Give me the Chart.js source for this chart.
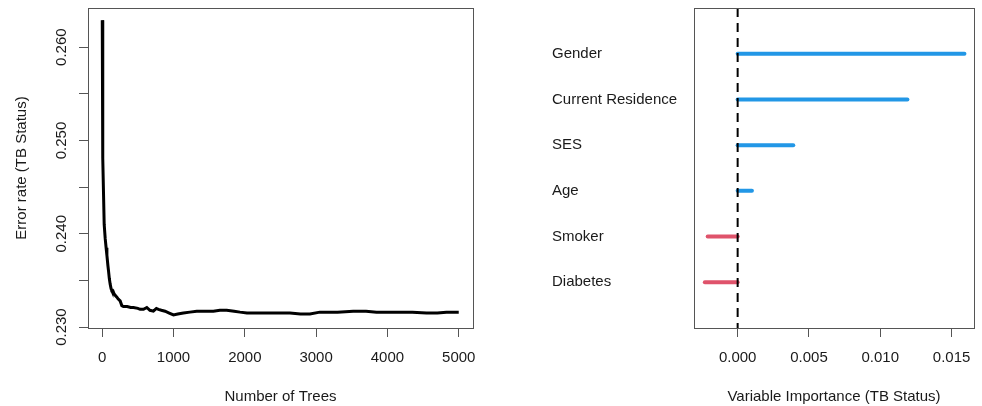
<!DOCTYPE html>
<html>
<head>
<meta charset="utf-8">
<script src="https://cdn.jsdelivr.net/npm/chart.js@4"></script>
<style>
  html, body { margin: 0; padding: 0; background: #fff; }
  #wrap { position: relative; width: 982px; height: 406px; }
  .panel { position: absolute; top: 0; height: 406px; }
  #left { left: 0; width: 490px; }
  #right { left: 490px; width: 492px; }
</style>
</head>
<body>
<div id="wrap">
  <div class="panel" id="left"><canvas id="errChart"></canvas></div>
  <div class="panel" id="right"><canvas id="impChart"></canvas></div>
</div>
<script>
// Left panel: OOB error rate vs number of trees
const treeCounts = [1, 8, 28, 42, 55, 66, 80, 89, 100, 112, 125, 136, 150, 165, 182, 206, 225, 252, 275, 298,
  350, 400, 439, 500, 532, 579, 626, 670, 718, 760, 789, 830, 882, 940, 1000, 1060, 1139, 1230, 1326, 1450,
  1559, 1650, 1746, 1850, 1933, 2030, 2119, 2250, 2399, 2520, 2633, 2780, 2913, 3053, 3147, 3300, 3520, 3700,
  3847, 4000, 4174, 4350, 4548, 4700, 4828, 5000];
const errorRates = [0.2629, 0.2481, 0.2410, 0.2395, 0.2385, 0.2377, 0.2366, 0.2360, 0.2352, 0.2346, 0.2341, 0.2339,
  0.2339, 0.2336, 0.2334, 0.2332, 0.2330, 0.2328, 0.2323, 0.2322, 0.2322, 0.2321, 0.2321, 0.2320, 0.2319, 0.2319,
  0.2321, 0.2318, 0.2317, 0.2320, 0.2319, 0.2318, 0.2317, 0.2315, 0.2313, 0.2314, 0.2315, 0.2316, 0.2317, 0.2317,
  0.2317, 0.2318, 0.2318, 0.2317, 0.2316, 0.2315, 0.2315, 0.2315, 0.2315, 0.2315, 0.2315, 0.2314, 0.2314, 0.2316,
  0.2316, 0.2316, 0.2317, 0.2317, 0.2316, 0.2316, 0.2316, 0.2316, 0.2315, 0.2315, 0.2316, 0.2316];
const treeTicks = [0, 1000, 2000, 3000, 4000, 5000];
const errorTicks = [0.230, 0.235, 0.240, 0.245, 0.250, 0.255, 0.260];
const errorTickLabels = ['0.230', '', '0.240', '', '0.250', '', '0.260'];

// Right panel: variable importance
const variables = ['Gender', 'Current Residence', 'SES', 'Age', 'Smoker', 'Diabetes'];
const importance = [0.0159, 0.0119, 0.0039, 0.0010, -0.0021, -0.0023];
const importanceTicks = [0, 0.005, 0.010, 0.015];

const posColor = '#2297E6';
const negColor = '#DF536B';
const boxColor = '#555';
const textColor = '#1a1a1a';

Chart.defaults.font.family = '"Liberation Sans", Arial, Helvetica, sans-serif';
Chart.defaults.font.size = 15;
Chart.defaults.color = textColor;
Chart.defaults.animation = false;

// R-style box around the plot region
const boxPlugin = {
    id: 'box',
    afterDraw(chart) {
        const a = chart.chartArea, ctx = chart.ctx;
        ctx.save();
        ctx.strokeStyle = boxColor;
        ctx.lineWidth = 1;
        ctx.strokeRect(Math.round(a.left) + 0.5, Math.round(a.top) + 0.5,
            Math.round(a.right - a.left), Math.round(a.bottom - a.top));
        ctx.restore();
    }
};

const tickGrid = { display: true, drawOnChartArea: false, drawTicks: true, tickLength: 9, color: boxColor, tickColor: boxColor };

// fixed axis sizes, no extra label padding
const fixHeight = h => s => { s.height = h; s.paddingLeft = 0; s.paddingRight = 0; };
const fixWidth = w => s => { s.width = w; s.paddingTop = 0; s.paddingBottom = 0; };

// 1. Error rate line
new Chart(document.getElementById('errChart'), {
    type: 'scatter',
    data: {
        datasets: [{
            data: treeCounts.map((t, i) => ({ x: t, y: errorRates[i] })),
            showLine: true,
            borderColor: '#000',
            borderWidth: 3,
            pointRadius: 0,
            tension: 0
        }]
    },
    options: {
        responsive: true,
        maintainAspectRatio: false,
        layout: { padding: { left: 0, top: 8, right: 17, bottom: 0 } },
        plugins: { legend: { display: false }, tooltip: { enabled: false } },
        scales: {
            x: {
                type: 'linear', min: -199, max: 5200,
                grid: tickGrid,
                border: { display: false },
                afterBuildTicks: s => { s.ticks = treeTicks.map(v => ({ value: v })); },
                afterFit: fixHeight(78),
                ticks: { padding: 12, maxRotation: 0, callback: v => String(v) },
                title: { display: true, text: 'Number of Trees', padding: { top: 0, bottom: 0 } }
            },
            y: {
                type: 'linear', min: 0.2299, max: 0.2642,
                grid: tickGrid,
                border: { display: false },
                afterBuildTicks: s => { s.ticks = errorTicks.map(v => ({ value: v })); },
                afterFit: fixWidth(88),
                ticks: {
                    padding: -2, crossAlign: 'center', minRotation: 90, maxRotation: 90,
                    callback: (v, i) => errorTickLabels[i]
                },
                title: { display: true, text: 'Error rate (TB Status)', padding: { top: 13, bottom: 0 } }
            }
        }
    },
    plugins: [boxPlugin]
});

// 2. Variable importance segments
const zeroLine = {
    data: [{ x: 0, y: 0 }, { x: 0, y: variables.length + 1 }],
    borderColor: '#000', borderWidth: 2, borderDash: [9, 6], pointRadius: 0, showLine: true
};
const segments = variables.map((name, i) => ({
    label: name,
    data: [{ x: 0, y: i + 1 }, { x: importance[i], y: i + 1 }],
    borderColor: importance[i] >= 0 ? posColor : negColor,
    borderWidth: 4, borderCapStyle: 'round', pointRadius: 0, showLine: true
}));

new Chart(document.getElementById('impChart'), {
    type: 'scatter',
    data: { datasets: [zeroLine, ...segments] },
    options: {
        responsive: true,
        maintainAspectRatio: false,
        layout: { padding: { left: 62, top: 8, right: 8, bottom: 0 } },
        plugins: { legend: { display: false }, tooltip: { enabled: false } },
        scales: {
            x: {
                type: 'linear', min: -0.00306, max: 0.01657,
                grid: tickGrid,
                border: { display: false },
                afterBuildTicks: s => { s.ticks = importanceTicks.map(v => ({ value: v })); },
                afterFit: fixHeight(78),
                ticks: { padding: 12, maxRotation: 0, callback: v => v.toFixed(3) },
                title: { display: true, text: 'Variable Importance (TB Status)', padding: { top: 0, bottom: 0 } }
            },
            y: {
                type: 'linear', min: 0, max: variables.length + 1, reverse: true,
                grid: { display: false },
                border: { display: false },
                afterBuildTicks: s => { s.ticks = variables.map((n, i) => ({ value: i + 1 })); },
                afterFit: fixWidth(142),
                ticks: { crossAlign: 'far', callback: (v, i) => variables[i] }
            }
        }
    },
    plugins: [boxPlugin]
});
</script>
</body>
</html>
